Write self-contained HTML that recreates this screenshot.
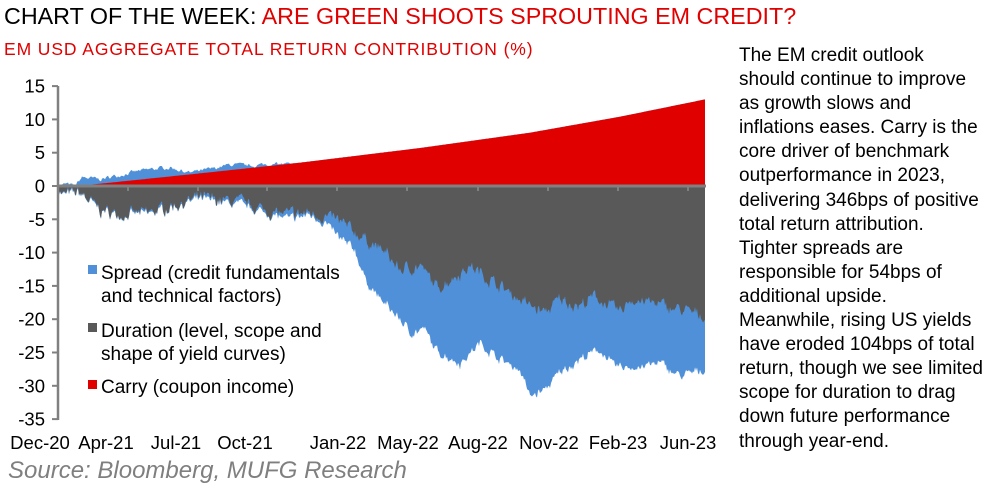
<!DOCTYPE html>
<html><head><meta charset="utf-8"><style>
body{margin:0;width:998px;height:499px;background:#fff;overflow:hidden;position:relative;font-family:"Liberation Sans",Arial,sans-serif}
.t{position:absolute;white-space:nowrap}
</style></head><body>
<div class="t" style="left:4px;top:3px;font-size:23.3px;color:#000">CHART OF THE WEEK: <span style="color:#e00000">ARE GREEN SHOOTS SPROUTING EM CREDIT?</span></div>
<div class="t" style="left:4px;top:39px;font-size:17.5px;letter-spacing:0.9px;color:#e00000">EM USD AGGREGATE TOTAL RETURN CONTRIBUTION (%)</div>
<div class="t" style="left:739px;top:44px;font-size:19px;line-height:24.1px;color:#000">The EM credit outlook<br>should continue to improve<br>as growth slows and<br>inflations eases. Carry is the<br>core driver of benchmark<br>outperformance in 2023,<br>delivering 346bps of positive<br>total return attribution.<br>Tighter spreads are<br>responsible for 54bps of<br>additional upside.<br>Meanwhile, rising US yields<br>have eroded 104bps of total<br>return, though we see limited<br>scope for duration to drag<br>down future performance<br>through year-end.</div>
<div class="t" style="left:8px;top:457px;font-size:24px;font-style:italic;color:#7f7f7f">Source: Bloomberg, MUFG Research</div>
<svg id="s" width="998" height="499" style="position:absolute;left:0;top:0" font-family="Liberation Sans,Arial,sans-serif"></svg>
<script>
var Z=186,U=6.66;
function y(v){return Z-v*U}
function interp(pts,x){for(var i=1;i<pts.length;i++){if(x<=pts[i][0]){var a=pts[i-1],b=pts[i],t=(x-a[0])/(b[0]-a[0]);return a[1]+t*(b[1]-a[1]);}}return pts[pts.length-1][1];}
var D=[[58,0],[62,-1.3],[80,-1],[100,-3.6],[120,-4.3],[150,-4],[180,-2.6],[200,-1.8],[220,-2.1],[245,-2.6],[270,-3.9],[290,-4.3],[310,-4],[335,-5],[362,-7.6],[385,-10],[400,-12.6],[420,-12],[437,-15.3],[470,-12],[510,-16],[530,-18],[545,-19],[560,-17],[580,-18],[595,-16.6],[620,-19],[630,-17],[650,-17.5],[680,-18.6],[705,-19.6]];
var T=[[58,0],[62,-1.3],[80,-1],[100,-3.6],[120,-4.4],[150,-4.1],[180,-2.8],[200,-2],[220,-2.4],[245,-3],[270,-4.3],[290,-5],[310,-4.3],[325,-5.5],[340,-8],[355,-9.6],[365,-14],[380,-17],[400,-20],[410,-22],[425,-21.6],[435,-24.6],[460,-26.6],[480,-23.6],[500,-26],[520,-27.6],[530,-31.6],[545,-30.6],[560,-28],[580,-26],[600,-24.6],[615,-27.2],[640,-27.2],[660,-26.6],[680,-28.6],[705,-27.6]];
var C=[[58,0],[78,0],[200,1.9],[300,3.5],[420,5.7],[530,8],[620,10.4],[705,13]];
var P=[[58,0],[66,0.3],[75,0],[82,1.3],[100,1],[130,2],[150,2.5],[170,2.8],[190,2],[210,2.5],[230,3.2],[250,3],[262,3.2],[285,3.3],[705,0]];
var seed=7;function r(){seed=(seed*16807)%2147483647;return seed/2147483647-0.5}
var red="M58,"+Z,blue="M58,"+Z,nz=0;
var dp=[],tp=[];
for(var x=58;x<=705;x+=1){nz=nz*0.6+r()*1.2;var n2=r()*0.6;
var c=Math.max(0,interp(C,x));var p=x<290?Math.max(c,interp(P,x)+nz*0.4):c;
var d=Math.min(0,interp(D,x)+nz*1.2+n2);var t=Math.min(d-(x>300?0.3:0.1),interp(T,x)+nz*0.8+n2);
red+=" L"+x+","+y(c).toFixed(1);blue+=" L"+x+","+y(p).toFixed(1);dp.push(x+","+y(d).toFixed(1));tp.push(x+","+y(t).toFixed(1));}
red+=" L705,"+Z+"Z";blue+=" L705,"+Z+"Z";
var g='<path d="M58,'+Z+' L'+tp.join(" L")+' L705,'+Z+'Z" fill="#4f90d8"/>';
g+='<path d="M58,'+Z+' L'+dp.join(" L")+' L705,'+Z+'Z" fill="#595959"/>';
g+='<path d="'+blue+'" fill="#4f90d8"/><path d="'+red+'" fill="#e00000"/>';
g+='<line x1="58" y1="86" x2="58" y2="420" stroke="#808080" stroke-width="2.5"/>';
g+='<line x1="57" y1="'+Z+'" x2="706" y2="'+Z+'" stroke="#808080" stroke-width="3"/>';
var lab=[15,10,5,0,-5,-10,-15,-20,-25,-30,-35];
lab.forEach(function(v){var yy=y(v);g+='<line x1="52" y1="'+yy+'" x2="58" y2="'+yy+'" stroke="#808080" stroke-width="2"/><text x="45" y="'+(yy+6.5)+'" text-anchor="end" font-size="18.5">'+v+'</text>';});
[128,198,267,337,407,478,548,618,688].forEach(function(x){g+='<line x1="'+x+'" y1="'+Z+'" x2="'+x+'" y2="'+(Z+5)+'" stroke="#808080" stroke-width="2"/>';});
var xl=[["Dec-20",40],["Apr-21",106],["Jul-21",176],["Oct-21",245],["Jan-22",338],["May-22",408],["Aug-22",478],["Nov-22",549],["Feb-23",618],["Jun-23",688]];
xl.forEach(function(a){g+='<text x="'+a[1]+'" y="449" text-anchor="middle" font-size="18.5">'+a[0]+'</text>';});
g+='<rect x="88" y="265" width="9" height="9" fill="#4f90d8"/><text x="101" y="279" font-size="19">Spread (credit fundamentals</text><text x="101" y="302" font-size="19">and technical factors)</text>';
g+='<rect x="88" y="323" width="9" height="9" fill="#595959"/><text x="101" y="337" font-size="19">Duration (level, scope and</text><text x="101" y="360" font-size="19">shape of yield curves)</text>';
g+='<rect x="88" y="380" width="9" height="9" fill="#e00000"/><text x="101" y="393" font-size="19">Carry (coupon income)</text>';
document.getElementById("s").innerHTML=g;
</script>
</body></html>
